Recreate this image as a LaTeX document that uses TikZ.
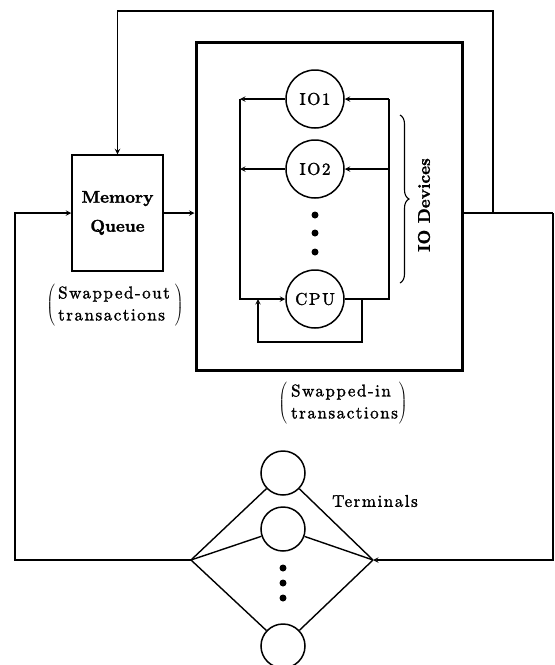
\documentclass[tikz,border=0pt]{standalone}
\usepackage{fontspec}
\setmainfont{lmroman10-regular.otf}[BoldFont=lmroman10-bold.otf,
  UprightFeatures={FakeBold=1.5}, BoldFeatures={FakeBold=1.5}]
\usepackage{tikz}
\usetikzlibrary{positioning, decorations.pathreplacing}

\newcommand{\figfont}{\fontsize{17}{22}\selectfont}
\newcommand{\spacedfont}{\figfont\addfontfeatures{LetterSpace=9}}

\tikzset{
  conn/.style={line width=1.4pt},
  queuebox/.style={draw, line width=1.5pt, minimum width=91pt, minimum height=116pt,
    align=center, font=\figfont\bfseries},
  server/.style={draw, circle, line width=1.5pt, minimum size=58pt, inner sep=0pt,
    font=\spacedfont},
  terminal/.style={draw, circle, line width=1.5pt, minimum size=44pt, inner sep=0pt},
  tag/.style={font=\spacedfont, inner sep=0pt},
}

\begin{document}
\begin{tikzpicture}[>=stealth, x=1pt, y=-1pt]
    \useasboundingbox (0,0) rectangle (555,665);

    % Warteschlange und Hauptblock
    \node[queuebox] (memq) at (117.5,213) {Memory\\[7pt]Queue};
    \node[draw, line width=3pt, minimum width=266pt, minimum height=328pt] (block) at (329,206) {};

    % Geräte im Block
    \node[server] (io1) at (315,99) {IO1};
    \node[server] (io2) at (315,169) {IO2};
    \node[server] (cpu) at (315,299) {CPU};
    \foreach \y in {215,233,252}
        \fill (315,\y) circle (3.5pt);

    \coordinate (lt) at (240,99);
    \coordinate (lb) at (240,299);
    \coordinate (rt) at (389,99);
    \coordinate (rb) at (389,299);
    \draw[conn,->] (io1) -- (lt);
    \draw[conn,->] (io2) -- (io2 -| lt);
    \draw[conn,->] (lt) -- (lb) -- (cpu);
    \draw[conn] (cpu) -- (rb) -- (rt);
    \draw[conn,->] (rt) -- (io1);
    \draw[conn,->] (io2 -| rt) -- (io2);

    % Rückführung der CPU
    \coordinate (fbout) at (362,299);
    \coordinate (fbin) at (258,299);
    \draw[conn,->] (fbout) -- ++(0,43) -| (fbin);

    \draw[line width=1.1pt, decorate, decoration={brace, amplitude=9pt}] (400,115) -- (400,283);
    \node[font=\figfont\bfseries, rotate=90] (iodev) at (424,205) {IO Devices};

    \node[tag] (outlbl) at (115,305)
        {$\left(\begin{tabular}{@{\hspace{3pt}}l@{\hspace{5pt}}}Swapped-out\\transactions\end{tabular}\right)$};
    \node[tag] (inlbl) at (343,403)
        {$\left(\begin{tabular}{@{\hspace{4pt}}l@{\hspace{1pt}}}Swapped-in\\transactions\end{tabular}\right)$};

    % äußere Verbindungen
    \coordinate (split) at (493,213);
    \coordinate (topc) at (493,11);
    \coordinate (rc) at (553,213);
    \coordinate (lc) at (15,560);
    \coordinate (lj) at (191,560);
    \coordinate (rj) at (373,560);
    \draw[conn,->] (memq) -- (memq -| block.west);
    \draw[conn] (memq -| block.east) -- (rc);
    \draw[conn,->] (split) -- (topc) -| (memq.north);
    \draw[conn,->] (rc) |- (rj);
    \draw[conn,->] (lj) -- (lc) |- (memq.west);

    % Terminals
    \node[terminal] (t1) at (283,473) {};
    \node[terminal] (t2) at (283,529) {};
    \node[terminal] (tn) at (283,646) {};
    \foreach \y in {568,583,598}
        \fill (283,\y) circle (3.5pt);
    \foreach \t in {t1,t2,tn} {
        \draw[conn] (lj) -- (\t);
        \draw[conn] (rj) -- (\t);
    }
    \node[tag] (termlbl) at (375,501) {Terminals};
\end{tikzpicture}
\end{document}
